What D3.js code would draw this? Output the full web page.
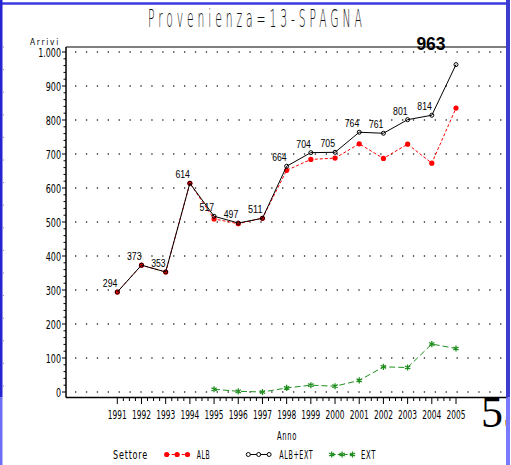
<!DOCTYPE html>
<html>
<head>
<meta charset="utf-8">
<script src="https://cdn.jsdelivr.net/npm/d3@7"></script>
<style>
  html, body { margin: 0; padding: 0; background: #fff; }
  svg { display: block; }
</style>
</head>
<body>
<div id="chart"></div>
<script>
// dati
const anni = [1991, 1992, 1993, 1994, 1995, 1996, 1997, 1998, 1999, 2000, 2001, 2002, 2003, 2004, 2005];
const albExt = [294, 373, 353, 614, 517, 497, 511, 664, 704, 705, 764, 761, 801, 814, 963];
const alb = [294, 373, 353, 614, 509, 495, 511, 652, 684, 688, 730, 687, 729, 673, 835];
const anniExt = [1995, 1996, 1997, 1998, 1999, 2000, 2001, 2002, 2003, 2004, 2005];
const ext = [8, 2, 0, 12, 20, 17, 34, 74, 72, 141, 128];
const yTicks = [0, 100, 200, 300, 400, 500, 600, 700, 800, 900, 1000];
const legenda = ["ALB", "ALB+EXT", "EXT"];

const W = 511, H = 465;
const narrow = '"DejaVu Sans Condensed", "DejaVu Sans", sans-serif';
const arial = '"Liberation Sans", Arial, sans-serif';
const RED = "#ff0000", GREEN = "#1f8f1f";

// larghezza "SAS" approssimata: cifre e lettere strette, punto stretto
const sasWidth = s => [...s].reduce((w, c) => w + (c === "." ? 2.4 : c === "i" ? 3 : 5.1), 0);

const svg = d3.select("#chart").append("svg")
    .attr("width", W)
    .attr("height", H);

const x = d3.scaleLinear().domain([1991, 2005]).range([117.3, 456]);
const y = d3.scaleLinear().domain([0, 1000]).range([392, 52]);

const pLeft = 66, pRight = 508, pTop = 47, pBottom = 397.5;

// titolo: carattere sottile, stretto e spaziato -> scala orizzontale
const titolo = svg.append("g");
const tt = titolo.append("text")
    .style("font-family", '"DejaVu Sans", sans-serif').style("font-weight", 200)
    .style("font-size", "25px").style("letter-spacing", "9px")
    .attr("fill", "#111")
    .text("Provenienza=13-SPAGNA");
const tw = tt.node().getComputedTextLength() - 9;
titolo.attr("transform", `translate(148,27) scale(${214 / tw},1)`);

// griglia tratteggiata
svg.append("g").selectAll("line")
    .data(yTicks)
    .join("line")
    .attr("x1", 75).attr("x2", 502)
    .attr("y1", d => y(d)).attr("y2", d => y(d))
    .attr("stroke", "#333")
    .attr("stroke-width", 1.3)
    .attr("stroke-dasharray", "1.3 9.6");

// cornice superiore
svg.append("line")
    .attr("x1", pLeft).attr("x2", pRight).attr("y1", pTop).attr("y2", pTop)
    .attr("stroke", "#555").attr("stroke-width", 1.3);

// asse y
const yAxis = svg.append("g");
yAxis.append("line")
    .attr("x1", pLeft).attr("x2", pLeft).attr("y1", pTop).attr("y2", pBottom)
    .attr("stroke", "#000").attr("stroke-width", 1.5);
yAxis.selectAll(".minor")
    .data(d3.range(0, 1001, 20))
    .join("line")
    .attr("x1", d => d % 100 === 0 ? 62 : 63.5).attr("x2", pLeft)
    .attr("y1", d => y(d)).attr("y2", d => y(d))
    .attr("stroke", "#000").attr("stroke-width", 1);
yAxis.selectAll("text")
    .data(yTicks)
    .join("text")
    .attr("x", 61).attr("y", d => y(d) + 4.5)
    .attr("text-anchor", "end")
    .style("font-family", narrow).style("font-size", "11.5px")
    .text(d => d === 1000 ? "1.000" : d)
    .attr("textLength", d => sasWidth(d === 1000 ? "1.000" : String(d)))
    .attr("lengthAdjust", "spacingAndGlyphs");
svg.append("text")
    .attr("x", 30).attr("y", 44.5)
    .attr("textLength", 30).attr("lengthAdjust", "spacingAndGlyphs")
    .style("font-family", narrow).style("font-size", "9.5px").style("letter-spacing", "2px")
    .text("Arrivi");

// asse x
const xAxis = svg.append("g");
xAxis.append("line")
    .attr("x1", pLeft).attr("x2", pRight).attr("y1", pBottom).attr("y2", pBottom)
    .attr("stroke", "#000").attr("stroke-width", 1.5);
xAxis.selectAll(".tick")
    .data(d3.range(1991, 2005.01, 0.25))
    .join("line")
    .attr("x1", d => x(d)).attr("x2", d => x(d))
    .attr("y1", pBottom)
    .attr("y2", d => Number.isInteger(d) ? 404 : 401)
    .attr("stroke", "#000").attr("stroke-width", 1);
xAxis.selectAll("text")
    .data(anni)
    .join("text")
    .attr("x", d => x(d)).attr("y", 418.5)
    .attr("text-anchor", "middle")
    .attr("textLength", 19).attr("lengthAdjust", "spacingAndGlyphs")
    .style("font-family", narrow).style("font-size", "11.5px")
    .text(d => d);
svg.append("text")
    .attr("x", 287).attr("y", 440)
    .attr("text-anchor", "middle")
    .attr("textLength", 20).attr("lengthAdjust", "spacingAndGlyphs")
    .style("font-family", narrow).style("font-size", "11.5px").style("letter-spacing", "1px")
    .text("Anno");

// serie
const lineTot = d3.line().x((d, i) => x(anni[i])).y(d => y(d));
const lineExt = d3.line().x((d, i) => x(anniExt[i])).y(d => y(d));
const asterisco = d3.symbol(d3.symbolAsterisk, 26);

svg.append("path").datum(ext)
    .attr("d", lineExt)
    .attr("fill", "none").attr("stroke", GREEN).attr("stroke-width", 1)
    .attr("stroke-dasharray", "6 3");
svg.append("g").selectAll("path")
    .data(ext)
    .join("path")
    .attr("transform", (d, i) => `translate(${x(anniExt[i])},${y(d)})`)
    .attr("d", asterisco)
    .attr("fill", "none").attr("stroke", GREEN).attr("stroke-width", 1.3);

svg.append("path").datum(alb)
    .attr("d", lineTot)
    .attr("fill", "none").attr("stroke", RED).attr("stroke-width", 1)
    .attr("stroke-dasharray", "3 2");
svg.append("g").selectAll("circle")
    .data(alb)
    .join("circle")
    .attr("cx", (d, i) => x(anni[i])).attr("cy", d => y(d))
    .attr("r", 2.6).attr("fill", RED);

svg.append("path").datum(albExt)
    .attr("d", lineTot)
    .attr("fill", "none").attr("stroke", "#000").attr("stroke-width", 1);
svg.append("g").selectAll("circle")
    .data(albExt)
    .join("circle")
    .attr("cx", (d, i) => x(anni[i])).attr("cy", d => y(d))
    .attr("r", 2).attr("fill", "none").attr("stroke", "#000").attr("stroke-width", 1);

// etichette valori
svg.append("g").selectAll("text")
    .data(albExt.slice(0, -1))
    .join("text")
    .attr("x", (d, i) => x(anni[i])).attr("y", d => y(d) - 5)
    .attr("text-anchor", "end")
    .attr("textLength", 14.5).attr("lengthAdjust", "spacingAndGlyphs")
    .style("font-family", arial).style("font-size", "10.2px")
    .text(d => d);
svg.append("text")
    .attr("x", x(2005) - 25).attr("y", y(1000) - 2)
    .attr("text-anchor", "middle")
    .style("font-family", arial).style("font-size", "17.5px").style("font-weight", "bold")
    .text(albExt[albExt.length - 1]);

// legenda
const ly = 454.5;
svg.append("text")
    .attr("x", 113).attr("y", 458.5)
    .attr("textLength", 35).attr("lengthAdjust", "spacingAndGlyphs")
    .style("font-family", narrow).style("font-size", "11.5px").style("letter-spacing", "1px")
    .text("Settore");
const legX = [166.7, 248.3, 331.7];
const legTx = [196.7, 279.3, 361];
const legTl = [13.5, 34, 15];
const legStyle = [
  { stroke: RED, dash: "3 2" },
  { stroke: "#000", dash: null },
  { stroke: GREEN, dash: "4 2" }
];
legenda.forEach((nome, k) => {
  const g = svg.append("g");
  const xs = [0, 1, 2].map(j => legX[k] + j * 10.4);
  g.append("line")
    .attr("x1", xs[0]).attr("x2", xs[2]).attr("y1", ly).attr("y2", ly)
    .attr("stroke", legStyle[k].stroke).attr("stroke-width", 1)
    .attr("stroke-dasharray", legStyle[k].dash);
  xs.forEach(cx => {
    if (k === 0) g.append("circle").attr("cx", cx).attr("cy", ly).attr("r", 2.6).attr("fill", RED);
    if (k === 1) g.append("circle").attr("cx", cx).attr("cy", ly).attr("r", 2)
        .attr("fill", "#fff").attr("stroke", "#000").attr("stroke-width", 1);
    if (k === 2) g.append("path").attr("transform", `translate(${cx},${ly})`).attr("d", asterisco)
        .attr("fill", "none").attr("stroke", GREEN).attr("stroke-width", 1.3);
  });
  g.append("text")
    .attr("x", legTx[k]).attr("y", 458.5)
    .attr("textLength", legTl[k]).attr("lengthAdjust", "spacingAndGlyphs")
    .style("font-family", narrow).style("font-size", "11.5px").style("letter-spacing", "1px")
    .text(nome);
});

// numero di pagina (tagliato dal bordo, come nell'originale)
svg.append("text")
    .attr("x", 481).attr("y", 427)
    .style("font-family", '"Liberation Serif", "Times New Roman", serif')
    .style("font-size", "44px")
    .text("55");

// cornice blu
svg.append("line")
    .attr("x1", 0).attr("x2", 509).attr("y1", 3.5).attr("y2", 3.5)
    .attr("stroke", "#3a3ae0").attr("stroke-width", 2.5);
svg.append("rect").attr("x", 0).attr("y", 0).attr("width", 2.5).attr("height", pBottom)
    .attr("fill", "#2424d0");
svg.append("rect").attr("x", 0).attr("y", pBottom).attr("width", 2.5).attr("height", H - pBottom)
    .attr("fill", "#6e6ef5");
svg.append("g").selectAll("line")
    .data(d3.range(16))
    .join("line")
    .attr("x1", 2.5).attr("x2", 4)
    .attr("y1", d => pTop + d * 22.6).attr("y2", d => pTop + d * 22.6)
    .attr("stroke", "#8c8cd8").attr("stroke-width", 1);
svg.append("rect").attr("x", 506).attr("y", 0).attr("width", 4).attr("height", pBottom)
    .attr("fill", "#3c3cd0");
svg.append("rect").attr("x", 506).attr("y", pBottom).attr("width", 4).attr("height", H - pBottom)
    .attr("fill", "#7a7aff");
svg.append("rect").attr("x", 510).attr("y", 0).attr("width", 1).attr("height", H)
    .attr("fill", "#fff");
</script>
</body>
</html>
